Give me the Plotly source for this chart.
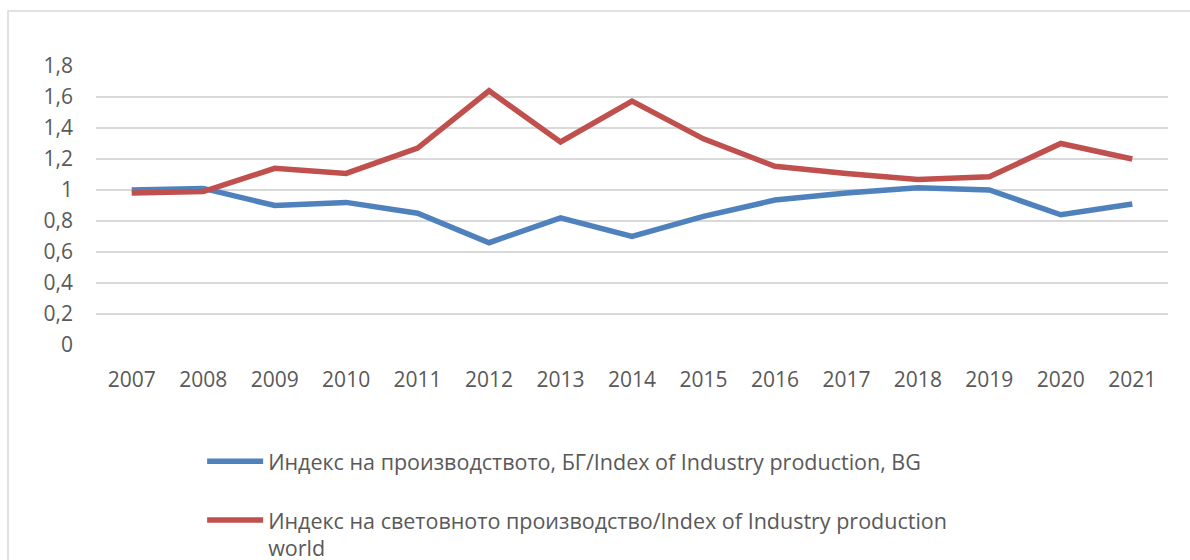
import plotly.graph_objects as go

years = ["2007", "2008", "2009", "2010", "2011", "2012", "2013", "2014",
         "2015", "2016", "2017", "2018", "2019", "2020", "2021"]
bg_index = [1.00, 1.01, 0.90, 0.92, 0.85, 0.66, 0.82, 0.70,
            0.83, 0.935, 0.98, 1.015, 1.00, 0.84, 0.91]
world_index = [0.98, 0.99, 1.14, 1.107, 1.27, 1.64, 1.31, 1.573,
               1.33, 1.153, 1.107, 1.068, 1.085, 1.30, 1.20]
name_bg = "Индекс на производството, БГ/Index of Industry production, BG"
name_world = "Индекс на световното производство/Index of Industry production<br>world"

FONT = "Open Sans"
GREY = "#595959"

fig = go.Figure()
fig.add_trace(go.Scatter(x=years, y=bg_index, mode="lines", name=name_bg,
                         legendgroup="a",
                         line=dict(color="#4f81bd", width=5.5)))
fig.add_trace(go.Scatter(x=years, y=world_index, mode="lines", name=name_world,
                         legendgroup="b",
                         line=dict(color="#c0504d", width=5.5)))

fig.update_layout(
    width=1190, height=560,
    margin=dict(l=96, r=22, t=66, b=214.5, autoexpand=False),
    paper_bgcolor="white", plot_bgcolor="white",
    separators=", ",
    font=dict(family=FONT, size=21, color=GREY),
    showlegend=True,
    legend=dict(x=0.099, y=-0.343, xanchor="left", yanchor="top",
                orientation="v", valign="top", itemwidth=56,
                tracegroupgap=28, font=dict(family=FONT, size=21.5, color=GREY),
                bgcolor="rgba(0,0,0,0)"),
    xaxis=dict(type="category", range=[-0.5, 14.5], showgrid=False,
               zeroline=False, showline=False,
               ticks="", ticklabelstandoff=20,
               tickfont=dict(family=FONT, size=21, color=GREY)),
    yaxis=dict(range=[0, 1.8], dtick=0.2, tick0=0, showgrid=True,
               gridcolor="#d9d9d9", gridwidth=1.5, zeroline=False,
               showline=False, ticks="", ticklabelstandoff=22,
               tickfont=dict(family=FONT, size=21, color=GREY)),
    shapes=[dict(type="rect", xref="paper", yref="paper",
                 x0=-88/1072, x1=1.12,
                 y0=-230/279.5, y1=(345.5-11)/279.5,
                 line=dict(color="#d9d9d9", width=1.5), layer="below")],
)

fig.write_html("out.html", config={"displayModeBar": False},
               post_script="document.body.style.margin='0';document.body.style.padding='0';")
